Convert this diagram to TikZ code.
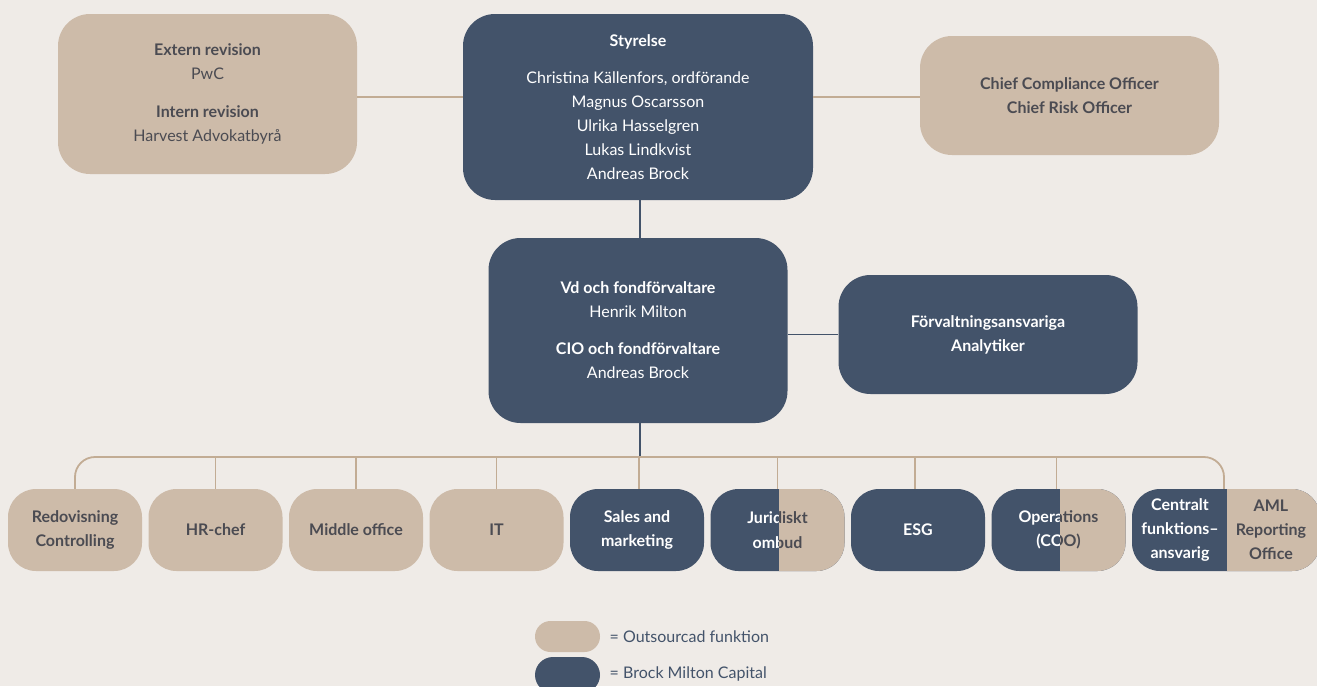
\documentclass[tikz,border=0pt]{standalone}
\usepackage{fontspec}
\setmainfont{Lato}
\usepackage{tikz}
\definecolor{paper}{HTML}{EFEBE7}
\definecolor{navy}{HTML}{43536A}
\definecolor{sand}{HTML}{CDBBA9}
\definecolor{sandline}{HTML}{C2AC94}
\definecolor{ink}{HTML}{4B4B52}
\tikzstyle{line} = [draw=sandline, line width=1.8pt]
\tikzstyle{navyline} = [draw=navy, line width=1.8pt]
\tikzstyle{topbox} = [rectangle, rounded corners=32pt, align=center, minimum width=299pt, font={\fontsize{16}{24}\selectfont}]
\tikzstyle{board} = [topbox, fill=navy, text=white, minimum width=350pt, minimum height=186pt]
\tikzstyle{audit} = [topbox, fill=sand, text=ink, minimum height=160pt]
\tikzstyle{ceo} = [topbox, fill=navy, text=white, minimum height=185pt]
\tikzstyle{side_out} = [topbox, fill=sand, text=ink, minimum height=119pt]
\tikzstyle{side_own} = [topbox, fill=navy, text=white, minimum height=119pt]
\tikzstyle{outbox} = [rectangle, rounded corners=28pt, fill=sand, text=ink, align=center, minimum width=134pt, minimum height=82pt, font={\bfseries\fontsize{16}{24.5}\selectfont}, node distance=140.5pt]
\tikzstyle{ownbox} = [outbox, fill=navy, text=white]
\tikzstyle{pill} = [rectangle, rounded corners=15.5pt, minimum width=65pt, minimum height=31pt]
\tikzstyle{legend_text} = [anchor=west, text=navy, font={\fontsize{16}{19}\selectfont}]

\begin{document}
\begin{tikzpicture}[x=1pt, y=1pt]
		\useasboundingbox (0,0) rectangle (1317,-686);
		\fill[paper] (0,0) rectangle (1317,-686);
		
		\node[board] (styrelse) at (638,-107) {\textbf{Styrelse}\\[13pt]Christina Källenfors, ordförande\\Magnus Oscarsson\\Ulrika Hasselgren\\Lukas Lindkvist\\Andreas Brock};
		\node[audit, left of=styrelse, node distance=430.5pt, yshift=13pt] (revision) {\textbf{Extern revision}\\PwC\\[14pt]\textbf{Intern revision}\\Harvest Advokatbyrå};
		\node[side_out, right of=styrelse, node distance=431.5pt, yshift=11.5pt] (compliance) {\textbf{Chief Compliance Officer}\\\textbf{Chief Risk Officer}};
		\path [line] ([yshift=-3pt]revision.east) to ([yshift=-3pt]revision.east-|styrelse.west);
		\path [line] ([yshift=-1.5pt]compliance.west) to ([yshift=-1.5pt]compliance.west-|styrelse.east);
		
		\node[ceo, below of=styrelse, node distance=223.5pt] (vd) {\textbf{Vd och fondförvaltare}\\Henrik Milton\\[13pt]\textbf{CIO och fondförvaltare}\\Andreas Brock};
		\node[side_own, right of=vd, node distance=350pt, yshift=-4pt] (analys) {\textbf{Förvaltningsansvariga}\\\textbf{Analytiker}};
		\path [navyline] ([xshift=2pt]styrelse.south) to ([xshift=2pt]vd.north);
		\path [navyline] (analys.west) to (analys.west-|vd.east);
		
		\node[outbox] (redovisning) at (75,-530) {Redovisning\\Controlling};
		\node[outbox, right of=redovisning] (hr) {HR-chef};
		\node[outbox, right of=hr] (middle) {Middle office};
		\node[outbox, right of=middle] (it) {IT};
		\node[ownbox, right of=it] (sales) {Sales and\\marketing};
		\node[ownbox, right of=sales] (juridik) {Juridiskt\\ombud};
		\node[ownbox, right of=juridik] (esg) {ESG};
		\node[ownbox, right of=esg] (operations) {Operations\\(COO)};
		\node[ownbox, right of=operations, node distance=167.5pt, minimum width=188pt] (central) {};
		
		\begin{scope}
			\clip ([xshift=1.5pt]juridik.north) rectangle ([xshift=2pt]juridik.south east);
			\node[outbox] at (juridik) {Juridiskt\\ombud};
		\end{scope}
		\begin{scope}
			\clip ([xshift=1.5pt]operations.north) rectangle ([xshift=2pt]operations.south east);
			\node[outbox] at (operations) {Operations\\(COO)};
		\end{scope}
		\begin{scope}
			\clip ([xshift=1pt]central.north) rectangle ([xshift=2pt]central.south east);
			\node[outbox, minimum width=188pt] at (central) {};
		\end{scope}
		\node[text=white, align=center, font={\bfseries\fontsize{16}{24}\selectfont}, left of=central, node distance=46pt] (funktion) {Centralt\\funktions–\\ansvarig};
		\node[text=ink, align=center, font={\bfseries\fontsize{16}{24}\selectfont}, right of=central, node distance=45pt] (aml) {AML\\Reporting\\Office};
		
		\coordinate (bus) at (640,-457);
		\path [navyline] (vd.south-|bus) to (bus);
		\draw [line, rounded corners=20pt] (redovisning.north) |- (bus) -| ([xshift=-2pt]central.north);
		\path [line] (hr.north) to (hr.north|-bus);
		\path [line] (middle.north) to (middle.north|-bus);
		\path [line] (it.north) to (it.north|-bus);
		\path [line] ([xshift=2pt]sales.north) to ([xshift=2pt]sales.north|-bus);
		\path [line] (juridik.north) to (juridik.north|-bus);
		\path [line] ([xshift=-3pt]esg.north) to ([xshift=-3pt]esg.north|-bus);
		\path [line] ([xshift=-2pt]operations.north) to ([xshift=-2pt]operations.north|-bus);
		
		\node[pill, fill=sand] (legend_out) at (567.5,-636.5) {};
		\node[pill, fill=navy, below of=legend_out, node distance=38.5pt, minimum height=36pt, rounded corners=18pt] (legend_own) {};
		\node[legend_text] at ([xshift=6pt]legend_out.east) (legend_out_text) {= Outsourcad funktion};
		\node[legend_text] at ([xshift=6pt, yshift=1.5pt]legend_own.east) (legend_own_text) {= Brock Milton Capital};
\end{tikzpicture}
\end{document}
